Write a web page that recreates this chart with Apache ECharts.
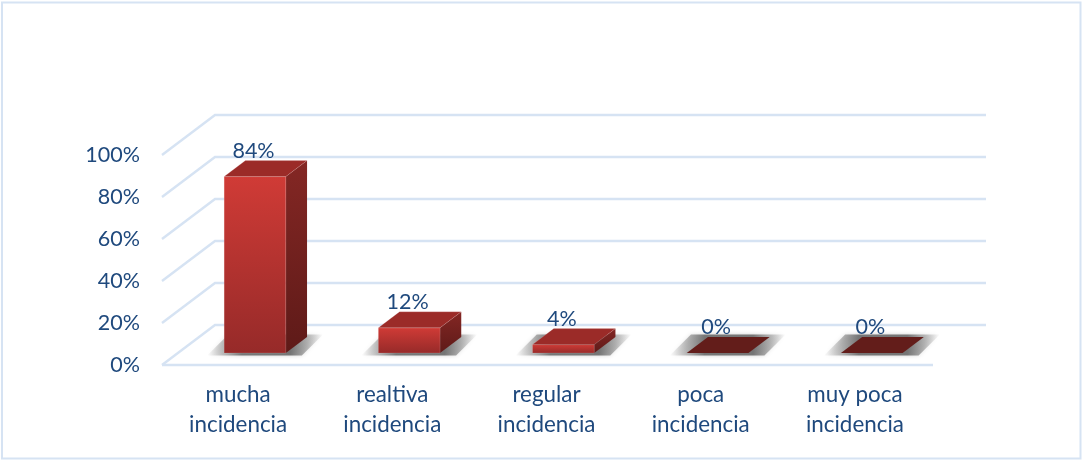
<!DOCTYPE html>
<html><head><meta charset="utf-8">
<style>html,body{margin:0;padding:0;background:#fff}#c{width:1082px;height:460px}</style>
<script src="https://cdn.jsdelivr.net/npm/echarts@6/dist/echarts.min.js"></script>
</head><body><div id="c"></div>
<script>
const categories = ['mucha\nincidencia','realtiva\nincidencia','regular\nincidencia','poca\nincidencia','muy poca\nincidencia'];
const values = [84,12,4,0,0];
const yTicks = [0,20,40,60,80,100];

const FONT = 'Lato';
const TEXT = '#1f497d';
const GRID = '#d6e3f3';
const DX = 53, DY = -40;
const BAR_W = 0.4, FLOOR_OFF = 0.3, BAR_DEPTH = 0.4;

function wallLine(params, api){
  const band = api.size([1,0])[0];
  const n = categories.length;
  const t = api.value(0);
  const a = api.coord([0,t]), b = api.coord([n-1,t]);
  const l = a[0]-band/2, r = b[0]+band/2, y = a[1];
  const style = {fill:'none',stroke:GRID,lineWidth:2.4};
  const kids = [{type:'polyline',shape:{points:[[l,y],[l+DX,y+DY],[r+DX,y+DY]]},style}];
  if(t===0){ kids.push({type:'polyline',shape:{points:[[l,y],[r,y]]},style}); }
  return {type:'group',children:kids};
}
function poly(points,fill,extra){
  return {type:'polygon',shape:{points},style:Object.assign({fill},extra||{})};
}
function grad(c0,c1){
  return {type:'linear',x:0,y:0,x2:0,y2:1,colorStops:[{offset:0,color:c0},{offset:1,color:c1}]};
}
const SHADOW = {type:'linear',x:0,y:0,x2:1,y2:0,colorStops:[
  {offset:0,color:'rgba(120,120,120,0)'},
  {offset:0.16,color:'rgba(120,120,120,0.5)'},
  {offset:0.30,color:'rgba(100,100,100,0.85)'},
  {offset:0.72,color:'rgba(100,100,100,0.85)'},
  {offset:0.86,color:'rgba(120,120,120,0.5)'},
  {offset:1,color:'rgba(120,120,120,0)'}]};
function bar(params, api){
  const band = api.size([1,0])[0];
  const v = api.value(1);
  const c = api.coord([api.value(0),0]);
  const top = api.coord([api.value(0),v])[1];
  const w = band*BAR_W, ox = FLOOR_OFF*DX, oy = FLOOR_OFF*DY, dx = BAR_DEPTH*DX, dy = BAR_DEPTH*DY;
  const x0 = c[0]+ox-w/2, x1 = x0+w, yb = c[1]+oy, yt = top+oy;
  const edge = {stroke:'rgba(255,225,225,0.25)',lineWidth:0.6};
  const kids = [];
  kids.push(poly([[x0-17,yb+2.5],[x1+16,yb+2.5],[x1+dx+16,yb+dy-2.5],[x0+dx-17,yb+dy-2.5]],SHADOW,{shadowBlur:4,shadowColor:'rgba(130,130,130,0.45)'}));
  if(v>0){
    kids.push(poly([[x1,yb],[x1+dx,yb+dy],[x1+dx,yt+dy],[x1,yt]],grad('#842724','#5e1a18')));
    kids.push({type:'rect',shape:{x:x0,y:yt,width:w,height:yb-yt},style:Object.assign({fill:grad('#d03b36','#962a29')},edge)});
  }
  kids.push(poly([[x0,yt],[x1,yt],[x1+dx,yt+dy],[x0+dx,yt+dy]],v>0?'#9b2b28':'#631d1a',v>0?edge:{}));
  kids.push({type:'text',style:{text:v+'%',x:x0+w/2-1.5,y:yt-26,align:'center',verticalAlign:'middle',font:'21.5px '+FONT,fill:TEXT}});
  return {type:'group',children:kids};
}

const chart = echarts.init(document.getElementById('c'));
chart.setOption({
  animation:false,
  backgroundColor:'#fff',
  graphic:[{type:'rect',silent:true,z:-1,shape:{x:2,y:2.5,width:1078.5,height:456},style:{fill:'none',stroke:GRID,lineWidth:2}}],
  grid:{left:162,right:149,top:155,bottom:95,containLabel:false},
  xAxis:{type:'category',data:categories,boundaryGap:true,axisLine:{show:false},axisTick:{show:false},splitLine:{show:false},
    axisLabel:{interval:0,margin:15,fontFamily:FONT,fontSize:22.4,color:TEXT,lineHeight:30,padding:[0,2,0,0]}},
  yAxis:{type:'value',min:0,max:100,interval:20,axisLine:{show:false},axisTick:{show:false},splitLine:{show:false},
    axisLabel:{margin:22,fontFamily:FONT,fontSize:21.5,color:TEXT,formatter:'{value}%',padding:[3,0,0,0]}},
  series:[
    {type:'custom',z:1,silent:true,renderItem:wallLine,encode:{y:0},data:yTicks.map(t=>[t])},
    {type:'custom',z:2,silent:true,renderItem:bar,encode:{x:0,y:1},data:values.map((v,i)=>[i,v])}
  ]
});
</script></body></html>
